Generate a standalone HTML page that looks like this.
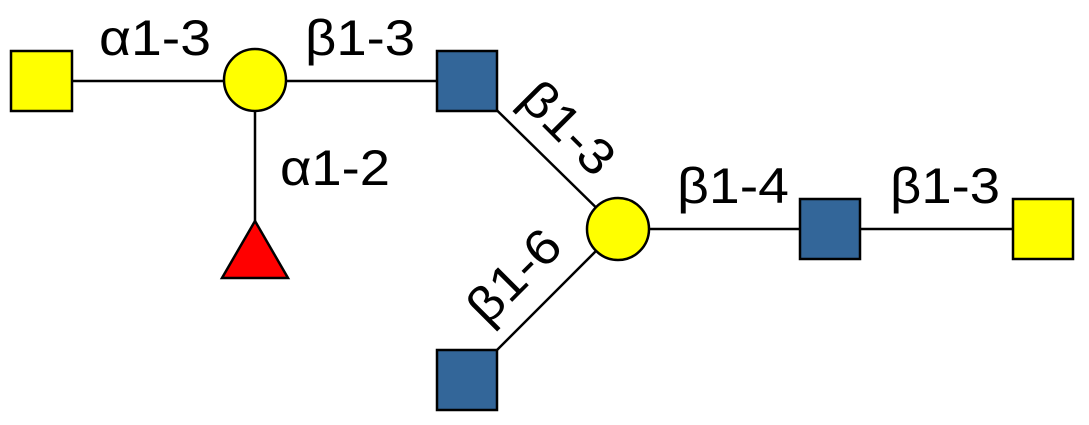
<!DOCTYPE html>
<html><head><meta charset="utf-8"><style>body{margin:0;background:#fff}svg{display:block}</style></head>
<body>
<svg width="1089" height="425" viewBox="0 0 1089 425" xmlns="http://www.w3.org/2000/svg">
<g stroke="#000" stroke-width="2.5" fill="none">
<line x1="42" y1="81" x2="255" y2="81"/>
<line x1="255" y1="81" x2="467" y2="81"/>
<line x1="255" y1="81" x2="255" y2="240"/>
<line x1="467" y1="81" x2="618" y2="229"/>
<line x1="618" y1="229" x2="467" y2="380"/>
<line x1="618" y1="229" x2="1043" y2="229"/>
</g>
<g stroke="#000" stroke-width="2.5">
<rect x="11" y="51" width="61" height="60" fill="#ffff00"/>
<circle cx="255" cy="80" r="31" fill="#ffff00"/>
<rect x="437" y="51" width="60" height="60" fill="#336699"/>
<polygon points="255,221 222,278 288,278" fill="#ff0000"/>
<circle cx="618" cy="229" r="31" fill="#ffff00"/>
<rect x="800" y="199" width="60" height="60" fill="#336699"/>
<rect x="1013" y="199" width="60" height="60" fill="#ffff00"/>
<rect x="437" y="350" width="60" height="60" fill="#336699"/>
</g>
<g font-family="Liberation Sans, sans-serif" font-size="50" fill="#000">
<text x="99" y="55" textLength="112" lengthAdjust="spacingAndGlyphs">α1-3</text>
<text x="305" y="55" textLength="110" lengthAdjust="spacingAndGlyphs">β1-3</text>
<text x="280" y="185" textLength="110" lengthAdjust="spacingAndGlyphs">α1-2</text>
<text x="677" y="203" textLength="112" lengthAdjust="spacingAndGlyphs">β1-4</text>
<text x="890" y="203" textLength="110" lengthAdjust="spacingAndGlyphs">β1-3</text>
<text transform="translate(568,128) rotate(45)" text-anchor="middle" y="17" textLength="110" lengthAdjust="spacingAndGlyphs">β1-3</text>
<text transform="translate(514,276) rotate(-45)" text-anchor="middle" y="17" textLength="110" lengthAdjust="spacingAndGlyphs">β1-6</text>
</g>
</svg>
</body></html>
